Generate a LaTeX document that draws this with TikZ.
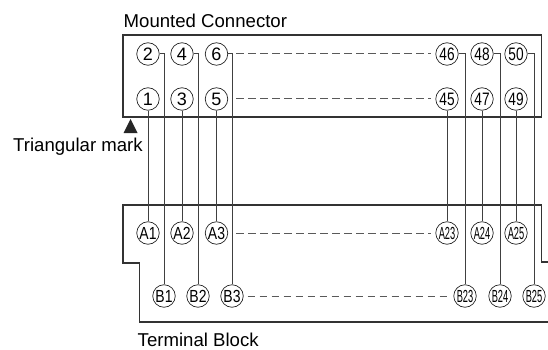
\documentclass[tikz,border=0pt]{standalone}
\usepackage{graphicx}
\usepackage{fontspec}
\setmainfont{Liberation Sans}
\newcommand{\nar}[2]{\scalebox{#1}[1]{#2}}
\tikzset{
  x=1pt,y=-1pt,
  pin/.style={circle,draw=black!85,line width=0.7pt,minimum size=22.5pt,inner sep=0pt,font=\fontsize{18}{18}\selectfont,fill=white},
  term/.style={pin,font=\fontsize{17.5}{17.5}\selectfont},
  body/.style={draw=black!80,line width=1.2pt},
  wire/.style={draw=black!75,line width=1pt},
  dots/.style={draw=black!65,line width=1pt,dash pattern=on 7.5pt off 4.5pt},
  lbl/.style={inner sep=0pt,anchor=base west,font=\fontsize{18.6}{18.6}\selectfont}
}
\begin{document}
\begin{tikzpicture}
\useasboundingbox (0,0) rectangle (548,350);
\draw[body] (123,35) rectangle (541.5,117);
\draw[body] (548,262) -- (541.5,262) -- (541.5,205) -- (123,205) -- (123,263) -- (139.5,263) -- (139.5,322) -- (548,322);
\node[pin] (p2) at (148,54) {2};
\node[pin] (p4) at (182,54) {4};
\node[pin] (p6) at (216.5,54) {6};
\node[pin] (p46) at (447,54) {\nar{.76}{46}};
\node[pin] (p48) at (482,54) {\nar{.76}{48}};
\node[pin] (p50) at (516,54) {\nar{.76}{50}};
\node[pin] (p1) at (148,99) {1};
\node[pin] (p3) at (182,99) {3};
\node[pin] (p5) at (216.5,99) {5};
\node[pin] (p45) at (447,99) {\nar{.76}{45}};
\node[pin] (p47) at (482,99) {\nar{.76}{47}};
\node[pin] (p49) at (516,99) {\nar{.76}{49}};
\node[term] (a1) at (148,233) {\nar{.8}{A1}};
\node[term] (a2) at (182,233) {\nar{.8}{A2}};
\node[term] (a3) at (216.5,233) {\nar{.8}{A3}};
\node[term] (a23) at (447,233) {\nar{.53}{A23}};
\node[term] (a24) at (482,233) {\nar{.53}{A24}};
\node[term] (a25) at (516,233) {\nar{.53}{A25}};
\node[term] (b1) at (164,296) {\nar{.8}{B1}};
\node[term] (b2) at (198,296) {\nar{.8}{B2}};
\node[term] (b3) at (232,296) {\nar{.8}{B3}};
\node[term] (b23) at (465,296) {\nar{.53}{B23}};
\node[term] (b24) at (500,296) {\nar{.53}{B24}};
\node[term] (b25) at (534,296) {\nar{.53}{B25}};
\foreach \u/\v in {p1/a1,p3/a2,p5/a3,p45/a23,p47/a24,p49/a25}
  \draw[wire] (\u) -- (\v);
\foreach \u/\v in {p2/b1,p4/b2,p6/b3,p46/b23,p48/b24,p50/b25}
  \draw[wire] (\u.east) -| (\v.north);
\draw[dots,shorten <=8pt,shorten >=4pt] (p6.east) -- (p46.west);
\draw[dots,shorten <=8pt,shorten >=4pt] (p5.east) -- (p45.west);
\draw[dots,shorten <=8pt,shorten >=4pt] (a3.east) -- (a23.west);
\draw[dots,shorten <=4pt,shorten >=6pt] (b3.east) -- (b23.west);
\node[lbl] (mc) at (123.5,28) {Mounted Connector};
\node[lbl] (tb) at (137.5,346) {Terminal Block};
\node[lbl] (tm) at (13,151.5) {Triangular mark};
\fill[black!85] (123.5,133) -- (130.5,119) -- (137.5,133) -- cycle;
\end{tikzpicture}
\end{document}
